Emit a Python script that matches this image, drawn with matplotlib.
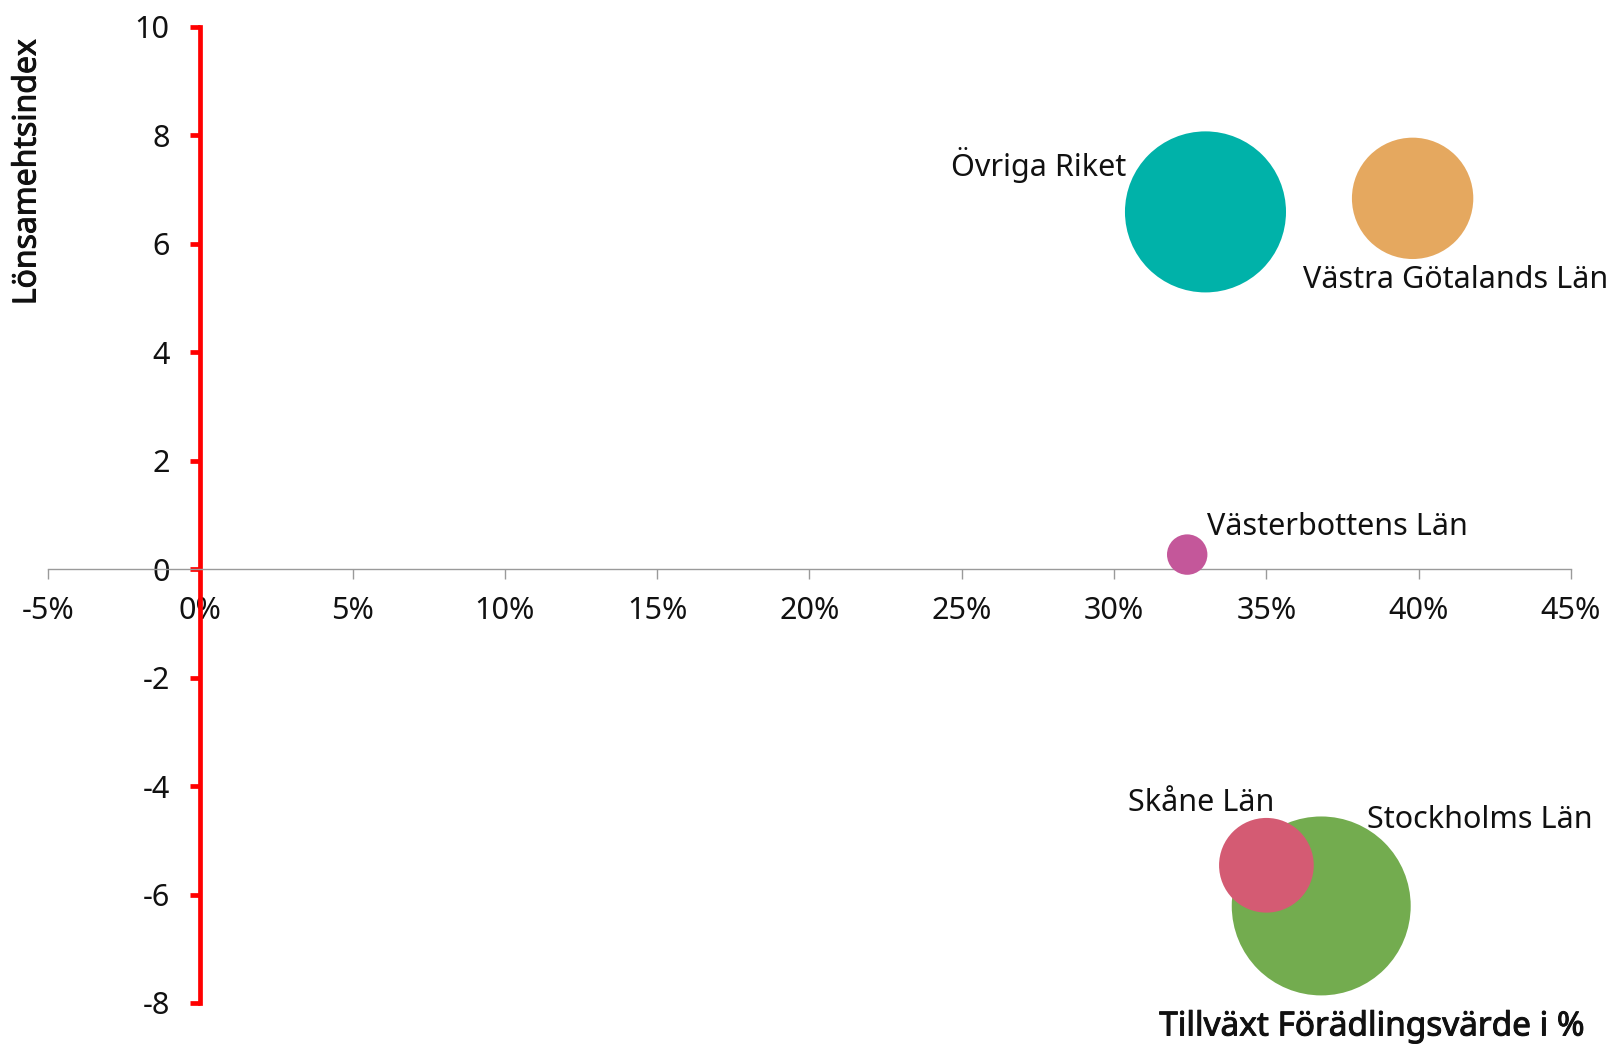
import numpy as np
from matplotlib import pyplot as plt
from matplotlib import patheffects

# regions, growth in value added (%), profitability index, bubble size
regions = ["Övriga Riket", "Västra Götalands Län", "Västerbottens Län", "Skåne Län", "Stockholms Län"]
growth = [33.0, 39.8, 32.4, 35.0, 36.8]
profit = [6.59, 6.84, 0.27, -5.46, -6.21]
size = [81, 46, 5.1, 28, 100]
colors = ["#00B2A9", "#E5A85F", "#C4579A", "#D45B73", "#73AC4F"]

x_ticks = [-5, 0, 5, 10, 15, 20, 25, 30, 35, 40, 45]
y_ticks = [-8, -6, -4, -2, 0, 2, 4, 6, 8, 10]

# label offsets (points) and alignment per bubble
label_offsets = [(-57, 34), (-79, -59), (14, 20), (-100, 45), (33, 62)]
label_ha = ["right", "left", "left", "left", "left"]

plt.rcParams["font.family"] = ["Noto Sans", "DejaVu Sans"]

fig = plt.figure(figsize=(16.08, 10.44), dpi=100)
ax = fig.add_axes([48 / 1608, 1 - 1003 / 1044, 1523 / 1608, 976 / 1044])

s = np.array(size) * 166
order = [0, 1, 2, 4, 3]  # Skåne drawn over Stockholm
for i in order:
    ax.scatter(growth[i], profit[i], s=s[i], color=colors[i], edgecolors="none", zorder=3, clip_on=False)

for i, name in enumerate(regions):
    ax.annotate(name, (growth[i], profit[i]), xytext=label_offsets[i], textcoords="offset points",
                ha=label_ha[i], va="center", fontsize=22, color="#111111", zorder=4)

ax.set_xlim(-5, 45)
ax.set_ylim(-8, 10)
ax.set_xticks(x_ticks)
ax.set_xticklabels([f"{t}%" for t in x_ticks])
ax.set_yticks(y_ticks)
ax.set_yticklabels([str(t) for t in y_ticks])

for side in ["top", "right"]:
    ax.spines[side].set_visible(False)
ax.spines["left"].set_position(("data", 0))
ax.spines["bottom"].set_position(("data", 0))
ax.spines["left"].set_color("#FF0000")
ax.spines["left"].set_linewidth(3.4)
ax.spines["bottom"].set_color("#9A9A9A")
ax.spines["bottom"].set_linewidth(1.0)

ax.tick_params(axis="y", direction="out", length=7, width=3.4, color="#FF0000", pad=15,
               labelsize=22, labelcolor="#111111")
ax.tick_params(axis="x", direction="out", length=7, width=1.0, color="#9A9A9A", pad=12,
               labelsize=22, labelcolor="#111111")

# slightly heavier axis titles
heavy = [patheffects.withStroke(linewidth=0.7, foreground="#111111")]
fig.text(27 / 1608, 1 - 172 / 1044, "Lönsamehtsindex", rotation=90, ha="center", va="center",
         fontsize=23, color="#111111", path_effects=heavy)
fig.text(1585 / 1608, 1 - 1027 / 1044, "Tillväxt Förädlingsvärde i %", ha="right", va="center",
         fontsize=24, color="#111111", path_effects=heavy)

plt.savefig("out.png", dpi=100)
